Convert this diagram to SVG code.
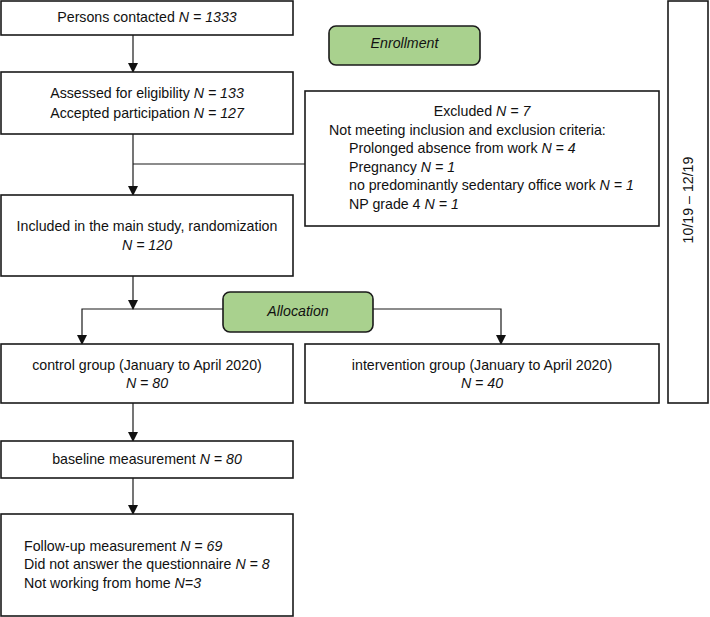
<svg xmlns="http://www.w3.org/2000/svg" width="710" height="617" viewBox="0 0 710 617">
<defs>
<style>
.box{fill:#fff;stroke:#1a1a1a;stroke-width:1.6}
.phase{fill:#a9d18e;stroke:#1a1a1a;stroke-width:1.6}
.t{font-family:"Liberation Sans",Arial,sans-serif;font-size:14.2px;fill:#111}
.c{text-anchor:middle}
.i{font-style:italic}
.ln{fill:none;stroke:#1a1a1a;stroke-width:1.2}
</style>
<marker id="ah" markerWidth="10" markerHeight="10" refX="9" refY="5" orient="auto" markerUnits="userSpaceOnUse">
<path d="M0,0 L10,5 L0,10 z" fill="#111"/>
</marker>
</defs>
<rect width="710" height="617" fill="#fff"/>

<g id="connectors">
<line class="ln" x1="133" y1="35" x2="133" y2="72" marker-end="url(#ah)"/>
<line class="ln" x1="133" y1="134" x2="133" y2="195" marker-end="url(#ah)"/>
<line class="ln" x1="133" y1="164" x2="305" y2="164"/>
<line class="ln" x1="133" y1="276" x2="133" y2="309" marker-end="url(#ah)"/>
<polyline class="ln" points="223,309 82,309 82,344" marker-end="url(#ah)"/>
<polyline class="ln" points="373,309 501,309 501,344" marker-end="url(#ah)"/>
<line class="ln" x1="133" y1="403" x2="133" y2="441" marker-end="url(#ah)"/>
<line class="ln" x1="133" y1="478" x2="133" y2="514" marker-end="url(#ah)"/>
</g>

<g id="contacted">
<rect class="box" x="1" y="1" width="292" height="34"/>
<text class="t c" x="147" y="22">Persons contacted <tspan class="i">N = 1333</tspan></text>
</g>

<g id="enrollment">
<rect class="phase" x="329" y="26" width="151" height="39" rx="7"/>
<text class="t c i" x="404.5" y="48">Enrollment</text>
</g>

<g id="assessed">
<rect class="box" x="1" y="72" width="292" height="62"/>
<text class="t c" x="147" y="98">Assessed for eligibility <tspan class="i">N = 133</tspan></text>
<text class="t c" x="147" y="118">Accepted participation <tspan class="i">N = 127</tspan></text>
</g>

<g id="excluded">
<rect class="box" x="305" y="91" width="354" height="135"/>
<text class="t c" x="482" y="116">Excluded <tspan class="i">N = 7</tspan></text>
<text class="t" x="329" y="135">Not meeting inclusion and exclusion criteria:</text>
<text class="t" x="349" y="153">Prolonged absence from work <tspan class="i">N = 4</tspan></text>
<text class="t" x="349" y="172">Pregnancy <tspan class="i">N = 1</tspan></text>
<text class="t" x="349" y="190">no predominantly sedentary office work <tspan class="i">N = 1</tspan></text>
<text class="t" x="349" y="209">NP grade 4 <tspan class="i">N = 1</tspan></text>
</g>

<g id="timeline">
<rect class="box" x="668" y="1" width="40" height="402"/>
<text class="t c" transform="translate(693,200) rotate(-90)">10/19 – 12/19</text>
</g>

<g id="included">
<rect class="box" x="1" y="195" width="292" height="81"/>
<text class="t c" x="147" y="231">Included in the main study, randomization</text>
<text class="t c i" x="147" y="250">N = 120</text>
</g>

<g id="allocation">
<rect class="phase" x="223" y="292" width="150" height="40" rx="7"/>
<text class="t c i" x="298" y="316">Allocation</text>
</g>

<g id="control">
<rect class="box" x="1" y="344" width="292" height="59"/>
<text class="t c" x="147" y="370">control group (January to April 2020)</text>
<text class="t c i" x="147" y="388">N = 80</text>
</g>

<g id="intervention">
<rect class="box" x="305" y="344" width="354" height="59"/>
<text class="t c" x="482" y="370">intervention group (January to April 2020)</text>
<text class="t c i" x="482" y="388">N = 40</text>
</g>

<g id="baseline">
<rect class="box" x="1" y="441" width="292" height="37"/>
<text class="t c" x="147" y="464">baseline measurement <tspan class="i">N = 80</tspan></text>
</g>

<g id="followup">
<rect class="box" x="1" y="514" width="292" height="102"/>
<text class="t" x="24" y="551">Follow-up measurement <tspan class="i">N = 69</tspan></text>
<text class="t" x="24" y="569">Did not answer the questionnaire <tspan class="i">N = 8</tspan></text>
<text class="t" x="24" y="588">Not working from home <tspan class="i">N=3</tspan></text>
</g>
</svg>
